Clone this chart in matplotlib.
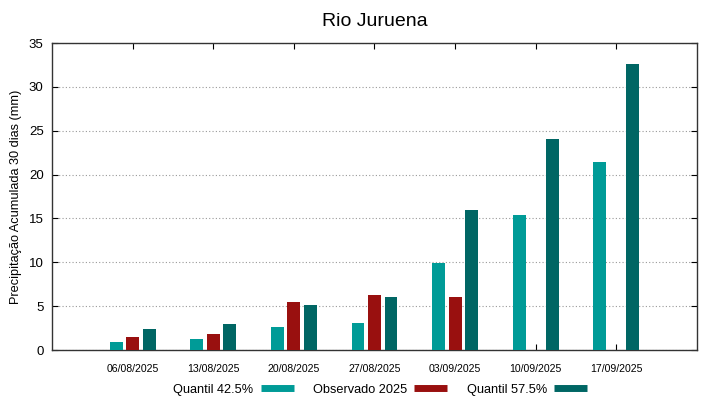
import matplotlib.pyplot as plt
import numpy as np
from matplotlib.lines import Line2D

plt.rcParams['font.family'] = ['Liberation Sans', 'DejaVu Sans']

dates = ['06/08/2025', '13/08/2025', '20/08/2025', '27/08/2025',
         '03/09/2025', '10/09/2025', '17/09/2025']
q425 = [0.88, 1.25, 2.6, 3.1, 9.9, 15.4, 21.45]
obs2025 = [1.5, 1.8, 5.45, 6.25, 6.0, np.nan, np.nan]
q575 = [2.35, 2.95, 5.15, 6.05, 16.0, 24.05, 32.6]

c_q425 = '#009b97'
c_obs = '#99100f'
c_q575 = '#006664'

fig = plt.figure(figsize=(7.19, 3.99), dpi=100)
ax = fig.add_axes([0.0723, 0.1228, 0.8971, 0.7694])

x = np.arange(1, len(dates) + 1)
w = 0.16
off = 0.205
ax.bar(x - off, q425, w, color=c_q425, zorder=3)
ax.bar(x, obs2025, w, color=c_obs, zorder=3)
ax.bar(x + off, q575, w, color=c_q575, zorder=3)

ax.set_xlim(0, 8)
ax.set_ylim(0, 35)
ax.set_xticks(x)
ax.set_xticklabels(dates, fontsize=7.6)
ax.set_yticks(np.arange(0, 36, 5))
ax.tick_params(axis='y', labelsize=9.5, direction='in', right=True, length=4, pad=6)
ax.tick_params(axis='x', direction='in', top=True, length=4, pad=10)
ax.yaxis.grid(True, linestyle=(0, (1, 2)), color='#999999', linewidth=0.8, zorder=0)
for s in ax.spines.values():
    s.set_color('#333333')
    s.set_linewidth(1.0)

ax.set_ylabel('Precipitação Acumulada 30 dias (mm)', fontsize=9.2, labelpad=5)
ax.set_title('Rio Juruena', fontsize=14, pad=12)

handles = [Line2D([], [], color=c, linewidth=5, solid_capstyle='butt')
           for c in (c_q425, c_obs, c_q575)]
ax.legend(handles, ['Quantil 42.5%', 'Observado 2025', 'Quantil 57.5%'],
          loc='upper center', bbox_to_anchor=(0.509, -0.072), ncol=3,
          frameon=False, markerfirst=False, fontsize=9.2,
          handlelength=2.6, handletextpad=0.55, columnspacing=1.5)

fig.savefig('out.png', dpi=100)
